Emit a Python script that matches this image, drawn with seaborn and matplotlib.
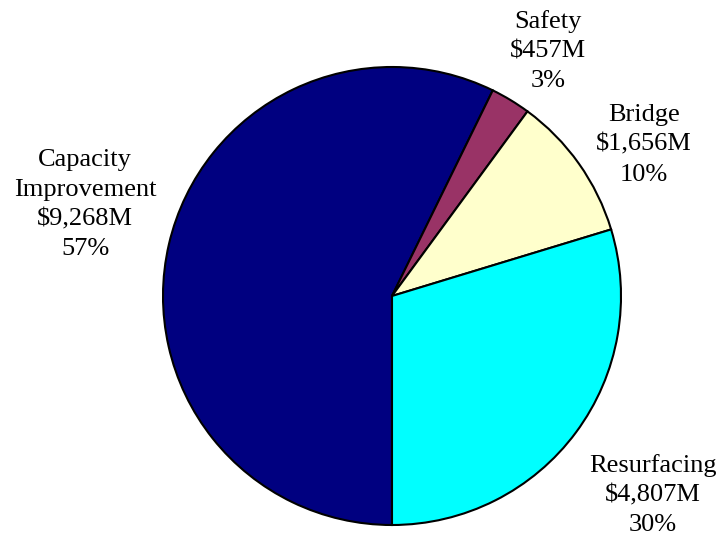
import matplotlib
matplotlib.use("Agg")
import matplotlib.pyplot as plt
import seaborn as sns

# program categories and spending ($M)
categories = ["Capacity\nImprovement", "Safety", "Bridge", "Resurfacing"]
amounts = [9268, 457, 1656, 4807]
amount_labels = ["$9,268M", "$457M", "$1,656M", "$4,807M"]
percent_labels = ["57%", "3%", "10%", "30%"]
colors = ["#000080", "#993366", "#FFFFCC", "#00FFFF"]

sns.set_theme(style="white")
plt.rcParams["font.family"] = ["Liberation Serif", "DejaVu Serif"]

fig = plt.figure(figsize=(7.19, 5.4), dpi=100)
ax = fig.add_axes([0, 0, 1, 1])

labels = [f"{c}\n{a}\n{p}" for c, a, p in zip(categories, amount_labels, percent_labels)]

wedges, texts = ax.pie(
    amounts,
    labels=labels,
    colors=colors,
    startangle=-90,
    counterclock=False,
    radius=229,
    center=(392, 244),
    labeldistance=1.3,
    wedgeprops=dict(edgecolor="black", linewidth=1.5),
    textprops=dict(fontsize=19, color="black", ha="center", va="center",
                   linespacing=1.45),
)

# label spots (relative to pie centre, in radii)
label_offsets = [(-1.34, 0.40), (0.68, 1.07), (1.10, 0.66), (1.14, -0.87)]
for t, (dx, dy) in zip(texts, label_offsets):
    t.set_position((392 + dx * 229, 244 + dy * 229))
    t.set_ha("center")
    t.set_va("center")

ax.set_xlim(0, 719)
ax.set_ylim(0, 540)
ax.set_aspect("equal")
ax.axis("off")

fig.savefig("out.png", dpi=100, facecolor="white")
